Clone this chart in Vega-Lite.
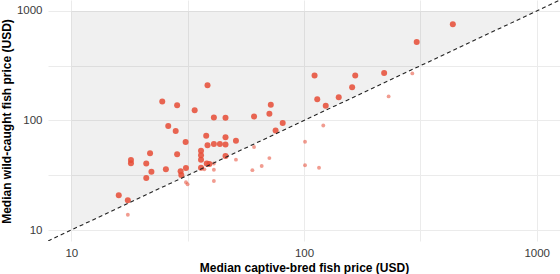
{
  "$schema": "https://vega.github.io/schema/vega-lite/v6.json",
  "width": 512,
  "height": 241,
  "autosize": {"type": "none"},
  "padding": {"left": 48, "top": 0, "right": 0, "bottom": 33},
  "config": {
    "view": {"stroke": null},
    "font": "Liberation Sans",
    "axis": {
      "grid": true,
      "gridColor": "#EBEBEB",
      "gridWidth": 1,
      "ticks": false,
      "domain": false,
      "labelFont": "Liberation Sans",
      "labelFontSize": 11.5,
      "labelColor": "#3A3A3A",
      "titleFont": "Liberation Sans",
      "titleFontSize": 12,
      "titleFontWeight": "bold",
      "titleColor": "#000000"
    }
  },
  "encoding": {
    "x": {
      "field": "captive",
      "type": "quantitative",
      "title": "Median captive-bred fish price (USD)",
      "scale": {"type": "log", "domain": [7.943, 1258.9], "nice": false},
      "axis": {
        "values": [10, 31.6228, 100, 316.228, 1000],
        "labelExpr": "datum.value == 10 || datum.value == 100 || datum.value == 1000 ? format(datum.value, 'd') : ''",
        "labelPadding": 6,
        "titleY": 30,
        "titleBaseline": "alphabetic"
      }
    },
    "y": {
      "field": "wild",
      "type": "quantitative",
      "title": "Median wild-caught fish price (USD)",
      "scale": {"type": "log", "domain": [7.943, 1258.9], "nice": false},
      "axis": {
        "values": [10, 31.6228, 100, 316.228, 1000],
        "labelExpr": "datum.value == 10 || datum.value == 100 || datum.value == 1000 ? format(datum.value, 'd') : ''",
        "labelPadding": 6,
        "titleX": -38,
        "titleY": 121,
        "titleAngle": -90,
        "titleAlign": "center",
        "titleBaseline": "alphabetic"
      }
    }
  },
  "layer": [
    {
      "description": "Region where the wild-caught price exceeds the captive-bred price",
      "data": {"values": [
        {"captive": 10, "wild": 10, "wild_top": 1000},
        {"captive": 1000, "wild": 1000, "wild_top": 1000}
      ]},
      "mark": {"type": "area", "color": "#000000", "opacity": 0.058},
      "encoding": {"y2": {"field": "wild_top"}}
    },
    {
      "data": {"values": [
        {"captive": 436, "wild": 756, "higher": "wild"},
        {"captive": 305, "wild": 521, "higher": "wild"},
        {"captive": 111, "wild": 257, "higher": "wild"},
        {"captive": 166, "wild": 258, "higher": "wild"},
        {"captive": 221, "wild": 272, "higher": "wild"},
        {"captive": 161, "wild": 201, "higher": "wild"},
        {"captive": 141, "wild": 163, "higher": "wild"},
        {"captive": 114, "wild": 156, "higher": "wild"},
        {"captive": 124, "wild": 136, "higher": "wild"},
        {"captive": 72, "wild": 139, "higher": "wild"},
        {"captive": 71, "wild": 115, "higher": "wild"},
        {"captive": 81, "wild": 95, "higher": "wild"},
        {"captive": 75.5, "wild": 81, "higher": "wild"},
        {"captive": 61, "wild": 109, "higher": "wild"},
        {"captive": 38.5, "wild": 210, "higher": "wild"},
        {"captive": 24.6, "wild": 149, "higher": "wild"},
        {"captive": 28.5, "wild": 138, "higher": "wild"},
        {"captive": 33.9, "wild": 124, "higher": "wild"},
        {"captive": 41, "wild": 106.5, "higher": "wild"},
        {"captive": 46, "wild": 106, "higher": "wild"},
        {"captive": 26.1, "wild": 89, "higher": "wild"},
        {"captive": 28.1, "wild": 80, "higher": "wild"},
        {"captive": 38, "wild": 72.5, "higher": "wild"},
        {"captive": 46, "wild": 70.3, "higher": "wild"},
        {"captive": 31, "wild": 63.6, "higher": "wild"},
        {"captive": 38.5, "wild": 59.5, "higher": "wild"},
        {"captive": 41, "wild": 61, "higher": "wild"},
        {"captive": 43.5, "wild": 61, "higher": "wild"},
        {"captive": 46, "wild": 60.4, "higher": "wild"},
        {"captive": 51, "wild": 65.3, "higher": "wild"},
        {"captive": 21.8, "wild": 50.3, "higher": "wild"},
        {"captive": 28.5, "wild": 49.2, "higher": "wild"},
        {"captive": 36.1, "wild": 52.9, "higher": "wild"},
        {"captive": 36.1, "wild": 48.1, "higher": "wild"},
        {"captive": 36.1, "wild": 43.8, "higher": "wild"},
        {"captive": 46, "wild": 47.4, "higher": "wild"},
        {"captive": 18.05, "wild": 43.6, "higher": "wild"},
        {"captive": 18.05, "wild": 40.7, "higher": "wild"},
        {"captive": 21, "wild": 40.5, "higher": "wild"},
        {"captive": 22.1, "wild": 34, "higher": "wild"},
        {"captive": 21, "wild": 29.9, "higher": "wild"},
        {"captive": 25.5, "wild": 35.9, "higher": "wild"},
        {"captive": 29.5, "wild": 34.4, "higher": "wild"},
        {"captive": 29.7, "wild": 31.8, "higher": "wild"},
        {"captive": 31.1, "wild": 36.8, "higher": "wild"},
        {"captive": 36.1, "wild": 37, "higher": "wild"},
        {"captive": 38.2, "wild": 40.5, "higher": "wild"},
        {"captive": 39.2, "wild": 40.1, "higher": "wild"},
        {"captive": 16, "wild": 20.8, "higher": "wild"},
        {"captive": 17.5, "wild": 18.7, "higher": "wild"},
        {"captive": 292, "wild": 269, "higher": "captive"},
        {"captive": 231, "wild": 166, "higher": "captive"},
        {"captive": 121, "wild": 90, "higher": "captive"},
        {"captive": 101, "wild": 64, "higher": "captive"},
        {"captive": 101, "wild": 39, "higher": "captive"},
        {"captive": 116, "wild": 37, "higher": "captive"},
        {"captive": 61, "wild": 57.3, "higher": "captive"},
        {"captive": 71, "wild": 45.4, "higher": "captive"},
        {"captive": 65.8, "wild": 38.4, "higher": "captive"},
        {"captive": 60, "wild": 35.2, "higher": "captive"},
        {"captive": 51, "wild": 43.9, "higher": "captive"},
        {"captive": 41, "wild": 40.5, "higher": "captive"},
        {"captive": 41, "wild": 35.5, "higher": "captive"},
        {"captive": 41, "wild": 28, "higher": "captive"},
        {"captive": 37.3, "wild": 35.8, "higher": "captive"},
        {"captive": 31.1, "wild": 27.3, "higher": "captive"},
        {"captive": 31.6, "wild": 26.2, "higher": "captive"},
        {"captive": 17.5, "wild": 13.8, "higher": "captive"}
      ]},
      "mark": {"type": "circle", "color": "#E64B35", "stroke": null},
      "encoding": {
        "size": {
          "field": "higher",
          "type": "nominal",
          "scale": {"domain": ["wild", "captive"], "range": [36, 15]},
          "legend": null
        },
        "opacity": {
          "field": "higher",
          "type": "nominal",
          "scale": {"domain": ["wild", "captive"], "range": [0.85, 0.55]},
          "legend": null
        }
      }
    },
    {
      "description": "Equal-price reference line",
      "data": {"values": [
        {"captive": 7.943, "wild": 7.943},
        {"captive": 1258.9, "wild": 1258.9}
      ]},
      "mark": {"type": "line", "color": "#222222", "strokeWidth": 1.1, "strokeDash": [4, 3], "clip": true},
      "encoding": {}
    }
  ]
}
